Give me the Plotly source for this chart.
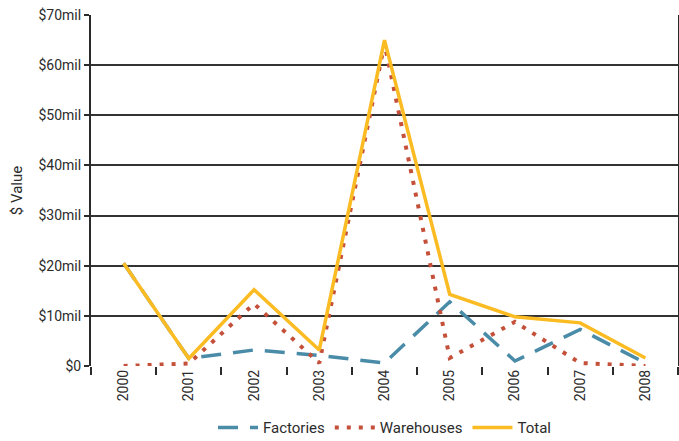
import plotly.graph_objects as go

years = ["2000", "2001", "2002", "2003", "2004", "2005", "2006", "2007", "2008"]
factories = [20.5, 1.5, 3.2, 2.1, 0.6, 12.8, 1.0, 7.3, 0.6]
warehouses = [0.0, 0.5, 12.4, 0.6, 64.3, 1.6, 8.8, 0.6, 0.0]
total = [20.5, 1.5, 15.2, 3.2, 65.0, 14.3, 9.8, 8.6, 1.6]

y_ticks = [0, 10, 20, 30, 40, 50, 60, 70]
y_labels = ["$0", "$10mil", "$20mil", "$30mil", "$40mil", "$50mil", "$60mil", "$70mil"]

FONT = "Roboto"
INK = "#2b2b2b"

fig = go.Figure()
fig.add_trace(go.Scatter(x=years, y=factories, name="Factories", mode="lines",
                         line=dict(color="#4a8ca8", width=3.5, dash="20px,12px")))
fig.add_trace(go.Scatter(x=years, y=warehouses, name="Warehouses", mode="lines",
                         line=dict(color="#c4503a", width=4, dash="4px,8px")))
fig.add_trace(go.Scatter(x=years, y=total, name="Total", mode="lines",
                         line=dict(color="#fbbb22", width=3.5)))

fig.update_layout(
    width=679, height=441,
    margin=dict(l=91, r=1, t=15, b=75),
    paper_bgcolor="white", plot_bgcolor="white",
    font=dict(family=FONT, size=14, color=INK),
    showlegend=True,
    legend=dict(orientation="h", x=0.5, xanchor="center",
                yref="container", y=0.03, yanchor="middle",
                font=dict(family=FONT, size=15, color=INK),
                itemwidth=40, traceorder="normal"),
)
fig.update_xaxes(
    type="category", tickson="boundaries", ticks="outside", ticklen=8,
    tickwidth=1.5, tickcolor=INK, tickangle=-90, automargin=False,
    showgrid=False, showline=False, zeroline=False,
    range=[-0.5, 8.5], tickfont=dict(size=14, color=INK),
)
fig.update_yaxes(
    range=[0, 70], tickvals=y_ticks, ticktext=y_labels, automargin=False,
    ticks="outside", ticklen=5, tickwidth=1.5, tickcolor=INK,
    showgrid=True, gridcolor="#333333", gridwidth=1.5,
    showline=True, linecolor=INK, linewidth=2, mirror=True,
    zeroline=False, tickfont=dict(size=14, color=INK),
    title=dict(text="$ Value", font=dict(size=15, color=INK), standoff=12),
)

fig.write_html("out.html")
